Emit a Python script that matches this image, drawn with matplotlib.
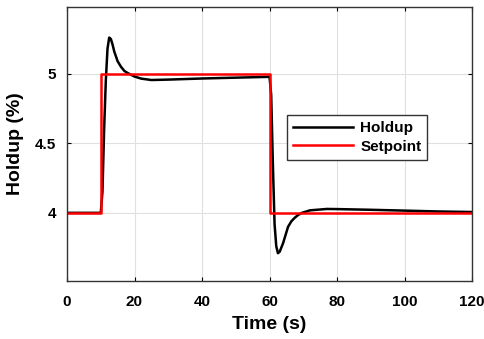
import matplotlib
matplotlib.use("Agg")
import matplotlib.pyplot as plt

plt.rcParams['font.family'] = ['Liberation Sans', 'DejaVu Sans']
plt.rcParams['font.weight'] = 'bold'

time_holdup = [0, 10, 10.5, 11, 11.5, 12, 12.5, 13, 13.5, 14, 15, 16, 17, 18, 20, 22, 25,
               30, 40, 50, 60, 60.5, 61, 61.5, 62, 62.5, 63, 64, 65, 65.5, 66.5, 67.5, 68.5,
               69.6, 72, 77, 80, 90, 100, 110, 120]
holdup = [4.0, 4.0, 4.15, 4.6, 4.95, 5.18, 5.26, 5.25, 5.21, 5.16, 5.09, 5.05, 5.02, 5.005,
          4.98, 4.965, 4.955, 4.958, 4.966, 4.972, 4.978, 4.85, 4.35, 3.92, 3.76, 3.71,
          3.72, 3.78, 3.86, 3.9, 3.94, 3.965, 3.985, 4.0, 4.018, 4.028, 4.027, 4.022, 4.016,
          4.01, 4.006]

time_sp = [0, 10, 10, 60, 60, 120]
setpoint = [4, 4, 5, 5, 4, 4]

xticks = [0, 20, 40, 60, 80, 100, 120]
yticks = [4, 4.5, 5]
ytick_labels = ['4', '4.5', '5']

fig = plt.figure(figsize=(4.84, 3.39), dpi=100)
ax = fig.add_axes([67/484, 1 - 281/339, 405/484, 274/339])

ax.plot(time_holdup, holdup, color='black', lw=1.8, label='Holdup')
ax.plot(time_sp, setpoint, color='#ff0000', lw=1.8, label='Setpoint')

ax.set_xlim(0, 120)
ax.set_ylim(3.51, 5.48)
ax.set_xticks(xticks)
ax.set_yticks(yticks)
ax.set_yticklabels(ytick_labels)
ax.grid(True, color='#e0e0e0', lw=0.8)
ax.set_axisbelow(True)
ax.tick_params(direction='in', top=True, right=True, labelsize=11, length=3)
ax.tick_params(axis='x', pad=10)
ax.tick_params(axis='y', pad=8)
for lab in ax.get_xticklabels() + ax.get_yticklabels():
    lab.set_fontweight('bold')
for s in ax.spines.values():
    s.set_linewidth(1.0)
    s.set_color('#333333')

ax.set_xlabel('Time (s)', fontsize=14, fontweight='bold', labelpad=5)
ax.set_ylabel('Holdup (%)', fontsize=14, fontweight='bold', labelpad=8)

leg = ax.legend(loc='upper left', bbox_to_anchor=(0.543, 0.606), borderaxespad=0,
                fancybox=False, edgecolor='#333333', framealpha=1,
                prop={'weight': 'bold', 'size': 11},
                handlelength=3.9, borderpad=0.4, labelspacing=0.3, handletextpad=0.5)
leg.get_frame().set_linewidth(1.0)

fig.savefig('out.png', dpi=100)
